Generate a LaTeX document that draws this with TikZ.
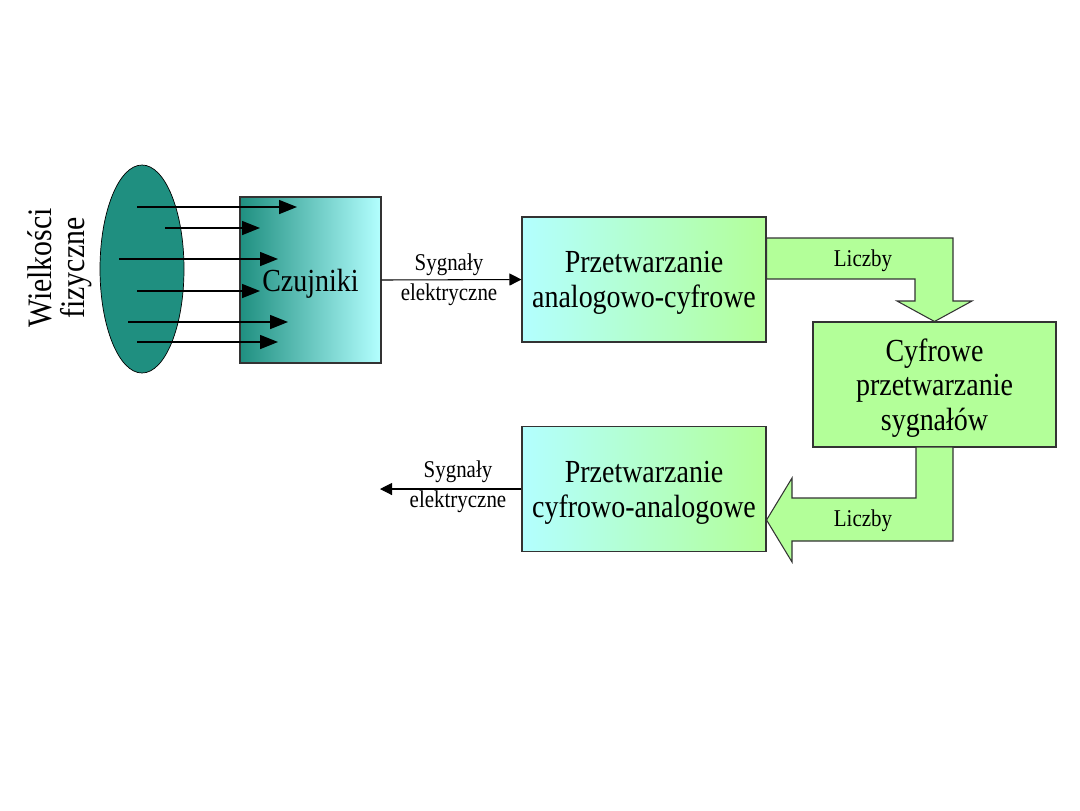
\documentclass[tikz,border=0pt]{standalone}
\usepackage{fontspec}
\setmainfont{Liberation Serif}[FakeStretch=0.87]
\usetikzlibrary{arrows.meta,positioning,calc,shapes.geometric}
\definecolor{pteal}{RGB}{31,143,128}
\definecolor{pcyan}{RGB}{179,255,255}
\definecolor{pgreen}{RGB}{179,255,153}
\tikzset{
  blk/.style={rectangle,draw=black!80,line width=0.6pt,minimum width=48.8mm,
              minimum height=25mm,align=center,inner sep=0pt,text depth=0pt,
              font=\fontsize{18.3}{19.8}\selectfont},
  lbl/.style={align=center,inner sep=0pt,font=\fontsize{13.7}{17}\selectfont},
  probe/.style={-{Triangle[length=3.6mm,width=2.8mm]},line width=0.8pt},
  sig/.style={-{Triangle[length=2.4mm,width=2.4mm]},line width=0.6pt},
  numarrow/.style={fill=pgreen,draw=black!80,line width=0.6pt},
}

\begin{document}
\begin{tikzpicture}[x=0.2mm,y=-0.2mm]
  \useasboundingbox (0,0) rectangle (1080,810);
  % physical quantities and sensors
  \node[ellipse,draw=black,fill=pteal,minimum width=16.8mm,minimum height=41.6mm,
        inner sep=0pt] (src) at (142,269) {};
  \node[rotate=90,align=center,inner sep=0pt,font=\fontsize{19.5}{18.5}\selectfont]
     (wf) at (60,268) {Wielkości\\fizyczne};
  \node[blk,minimum width=28.2mm,minimum height=33.2mm,left color=pteal,right color=pcyan]
     (czu) at (310.5,280) {Czujniki};
  \foreach \i/\y/\xa/\xb in {1/207/137/297, 2/228/165/260, 3/259/119/278,
                             4/291/137/260, 5/322/128/288, 6/342/137/278} {
    \coordinate (s\i) at (\xa,\y);
    \coordinate (t\i) at (\xb,\y);
    \draw[probe] (s\i) -- (t\i);
  }
  % processing blocks
  \node[blk,left color=pcyan,right color=pgreen] (ac) at (644,279.5)
     {Przetwarzanie\\analogowo-cyfrowe};
  \node[blk,fill=pgreen,minimum width=48.6mm] (dsp) at (934.5,384.5)
     {Cyfrowe\\przetwarzanie\\sygnałów};
  \node[blk,left color=pcyan,right color=pgreen] (da) at (644,489)
     {Przetwarzanie\\cyfrowo-analogowe};
  % electrical signals
  \draw[sig] (czu.east) -- (ac.west);
  \node[lbl] (sin) at (449,280) {Sygnały\\elektryczne};
  \coordinate (out) at (380,489);
  \draw[sig] (da.west) -- (out);
  \node[lbl] (sout) at (458,487) {Sygnały\\elektryczne};
  % numbers (block arrows)
  \draw[numarrow] (ac.east |- 0,238) -- (953,238) -- (953,301) -- (972,301)
     -- (dsp.north) -- (897,301) -- (915,301) -- (915,279) -- (ac.east |- 0,279) -- cycle;
  \node[lbl] (nin) at (863,261) {Liczby};
  \draw[numarrow] (916,447) -- (916,498) -- (792,498) -- (792,478)
     -- (da.east |- 0,520) -- (792,562) -- (792,541) -- (953,541) -- (953,447) -- cycle;
  \node[lbl] (nout) at (863,521) {Liczby};
\end{tikzpicture}
\end{document}
